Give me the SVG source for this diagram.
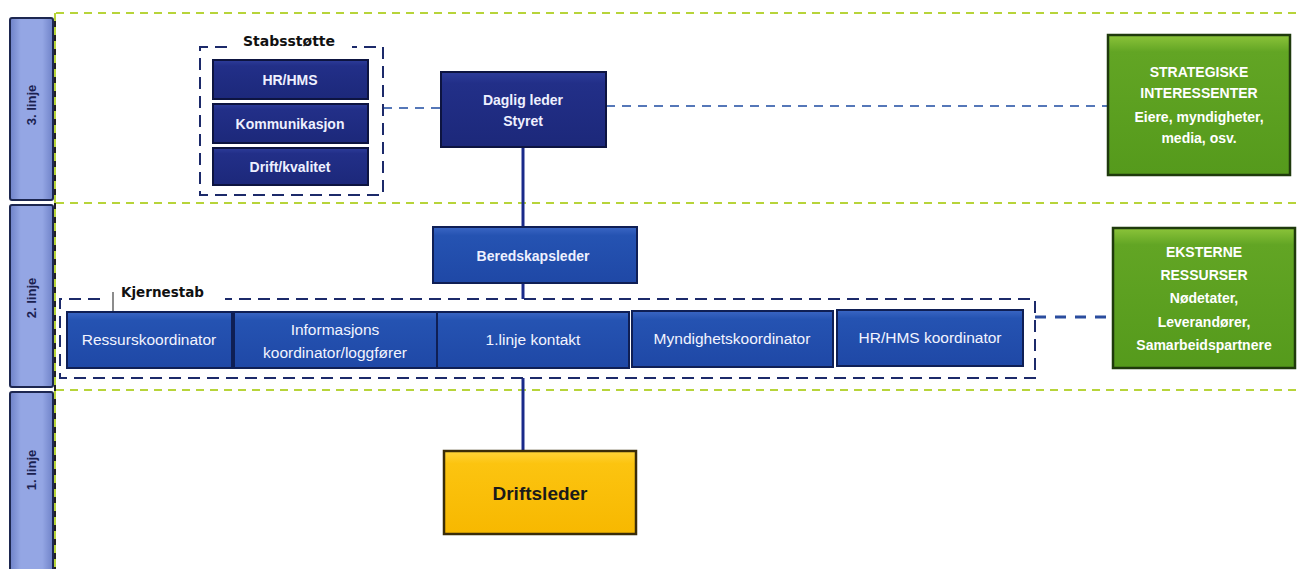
<svg xmlns="http://www.w3.org/2000/svg" width="1302" height="569" viewBox="0 0 1302 569">
  <defs>
    <linearGradient id="laneGrad" x1="0" y1="0" x2="1" y2="0">
      <stop offset="0" stop-color="#6f82c8"/>
      <stop offset="0.25" stop-color="#94a6e4"/>
      <stop offset="0.75" stop-color="#94a6e4"/>
      <stop offset="1" stop-color="#6f82c8"/>
    </linearGradient>
    <linearGradient id="navyGrad" x1="0" y1="0" x2="0" y2="1">
      <stop offset="0" stop-color="#2d3c9a"/>
      <stop offset="0.15" stop-color="#222f88"/>
      <stop offset="1" stop-color="#1c287a"/>
    </linearGradient>
    <linearGradient id="blueGrad" x1="0" y1="0" x2="0" y2="1">
      <stop offset="0" stop-color="#3a66c4"/>
      <stop offset="0.15" stop-color="#2553b2"/>
      <stop offset="1" stop-color="#1f48a6"/>
    </linearGradient>
    <linearGradient id="greenGrad" x1="0" y1="0" x2="0" y2="1">
      <stop offset="0" stop-color="#8cc43a"/>
      <stop offset="0.12" stop-color="#62a524"/>
      <stop offset="1" stop-color="#559a1c"/>
    </linearGradient>
    <linearGradient id="yellowGrad" x1="0" y1="0" x2="0" y2="1">
      <stop offset="0" stop-color="#ffd43a"/>
      <stop offset="0.15" stop-color="#fcc410"/>
      <stop offset="1" stop-color="#f7b800"/>
    </linearGradient>
  </defs>
  <style>
    .lane { fill: url(#laneGrad); stroke: #1d2750; stroke-width: 2; }
    .laneText { font-family: "Liberation Sans", Arial, sans-serif; font-size: 13px; font-weight: bold; fill: #1a2150; }
    .laneLine { fill: none; stroke: #b7d43a; stroke-width: 2; stroke-dasharray: 8 6; }
    .navy { fill: url(#navyGrad); stroke: #0d1440; stroke-width: 2; }
    .blue { fill: url(#blueGrad); stroke: #0f1f55; stroke-width: 2; }
    .green { fill: url(#greenGrad); stroke: #1f3a0c; stroke-width: 2.5; }
    .yellow { fill: url(#yellowGrad); stroke: #3a2c08; stroke-width: 2.5; }
    .t { font-family: "Liberation Sans", Arial, sans-serif; font-size: 14px; font-weight: bold; fill: #eef0ff; text-anchor: middle; }
    .tr { font-family: "Liberation Sans", Arial, sans-serif; font-size: 15.5px; fill: #f2f4ff; text-anchor: middle; }
    .tg { font-family: "Liberation Sans", Arial, sans-serif; font-size: 14px; font-weight: bold; fill: #ffffff; text-anchor: middle; }
    .groupLabel { font-family: "DejaVu Sans", Arial, sans-serif; font-weight: bold; fill: #111111; }
    .groupBox { fill: none; stroke: #1c2a6a; stroke-width: 2; stroke-dasharray: 12 7; }
    .solid { fill: none; stroke: #1a2a8a; stroke-width: 3; }
    .dash { fill: none; stroke: #5577b8; stroke-width: 2; stroke-dasharray: 9 7; }
    .dashBold { fill: none; stroke: #2a4c9e; stroke-width: 3; stroke-dasharray: 11 9; }
  </style>

  <rect x="0" y="0" width="1302" height="569" fill="#ffffff"/>

  <!-- lane headers -->
  <g id="lane-3">
    <rect class="lane" x="10" y="18" width="43" height="182" rx="2"/>
    <text class="laneText" transform="translate(36 105) rotate(-90)" text-anchor="middle">3. linje</text>
  </g>
  <g id="lane-2">
    <rect class="lane" x="10" y="205" width="43" height="182" rx="2"/>
    <text class="laneText" transform="translate(36 298) rotate(-90)" text-anchor="middle">2. linje</text>
  </g>
  <g id="lane-1">
    <rect class="lane" x="10" y="392" width="43" height="180" rx="2"/>
    <text class="laneText" transform="translate(36 470) rotate(-90)" text-anchor="middle">1. linje</text>
  </g>

  <!-- lane separators -->
  <g id="lane-lines">
    <line class="laneLine" x1="56" y1="13" x2="1302" y2="13"/>
    <line class="laneLine" x1="56" y1="203" x2="1302" y2="203"/>
    <line class="laneLine" x1="56" y1="390" x2="1302" y2="390"/>
    <line x1="55" y1="13" x2="55" y2="569" stroke="#222222" stroke-width="2"/>
    <line class="laneLine" x1="55" y1="13" x2="55" y2="569"/>
  </g>

  <!-- connectors -->
  <g id="connectors">
    <line class="solid" x1="523" y1="147" x2="523" y2="227"/>
    <line class="solid" x1="523" y1="283" x2="523" y2="299"/>
    <line class="solid" x1="523" y1="378" x2="523" y2="451"/>
    <line class="dash" x1="383" y1="108" x2="441" y2="108"/>
    <line class="dash" x1="606" y1="106" x2="1108" y2="106"/>
    <line class="dashBold" x1="1035" y1="317" x2="1113" y2="317"/>
    <line x1="113" y1="292" x2="113" y2="312" stroke="#666666" stroke-width="1.5"/>
  </g>

  <!-- Stabsstøtte group -->
  <g id="stabsstotte">
    <path class="groupBox" d="M227 47 H200 V195 H383 V47 H352"/>
    <text class="groupLabel" x="289" y="46" text-anchor="middle" font-size="14">Stabsstøtte</text>
  </g>
  <g id="hr-hms">
    <rect class="navy" x="213" y="60" width="155" height="39"/>
    <text class="t" x="290" y="85">HR/HMS</text>
  </g>
  <g id="kommunikasjon">
    <rect class="navy" x="213" y="104" width="155" height="39"/>
    <text class="t" x="290" y="129">Kommunikasjon</text>
  </g>
  <g id="drift-kvalitet">
    <rect class="navy" x="213" y="148" width="155" height="37"/>
    <text class="t" x="290" y="172">Drift/kvalitet</text>
  </g>

  <g id="daglig-leder">
    <rect class="navy" x="441" y="72" width="165" height="75"/>
    <text class="t" x="523" y="105">Daglig leder</text>
    <text class="t" x="523" y="126">Styret</text>
  </g>

  <g id="strategiske">
    <rect class="green" x="1108" y="35" width="182" height="140"/>
    <text class="tg" x="1199" y="77">STRATEGISKE</text>
    <text class="tg" x="1199" y="98">INTERESSENTER</text>
    <text class="tg" x="1199" y="122">Eiere, myndigheter,</text>
    <text class="tg" x="1199" y="143">media, osv.</text>
  </g>

  <g id="beredskapsleder">
    <rect class="blue" x="433" y="227" width="204" height="56"/>
    <text class="t" x="533" y="261">Beredskapsleder</text>
  </g>

  <!-- Kjernestab group -->
  <g id="kjernestab">
    <path class="groupBox" d="M100 299 H60 V378 H1035 V299 H225"/>
    <text class="groupLabel" x="121" y="297" font-size="13.5">Kjernestab</text>
  </g>
  <g id="ressurskoordinator">
    <rect class="blue" x="67" y="312" width="165" height="56"/>
    <text class="tr" x="149" y="345">Ressurskoordinator</text>
  </g>
  <g id="informasjonskoordinator">
    <rect class="blue" x="234" y="312" width="203" height="56"/>
    <text class="tr" x="335" y="335">Informasjons</text>
    <text class="tr" x="335" y="358">koordinator/loggfører</text>
  </g>
  <g id="linje-kontakt">
    <rect class="blue" x="437" y="312" width="192" height="56"/>
    <text class="tr" x="533" y="345">1.linje kontakt</text>
  </g>
  <g id="myndighetskoordinator">
    <rect class="blue" x="632" y="311" width="201" height="56"/>
    <text class="tr" x="732" y="344">Myndighetskoordinator</text>
  </g>
  <g id="hr-hms-koordinator">
    <rect class="blue" x="837" y="310" width="186" height="56"/>
    <text class="tr" x="930" y="343">HR/HMS koordinator</text>
  </g>

  <g id="eksterne">
    <rect class="green" x="1113" y="228" width="182" height="140"/>
    <text class="tg" x="1204" y="257">EKSTERNE</text>
    <text class="tg" x="1204" y="280">RESSURSER</text>
    <text class="tg" x="1204" y="303">Nødetater,</text>
    <text class="tg" x="1204" y="327">Leverandører,</text>
    <text class="tg" x="1204" y="350">Samarbeidspartnere</text>
  </g>

  <g id="driftsleder">
    <rect class="yellow" x="444" y="451" width="192" height="83"/>
    <text x="540" y="500" text-anchor="middle" font-family="Liberation Sans, Arial, sans-serif" font-size="19" font-weight="bold" fill="#1a1a1a">Driftsleder</text>
  </g>
</svg>
